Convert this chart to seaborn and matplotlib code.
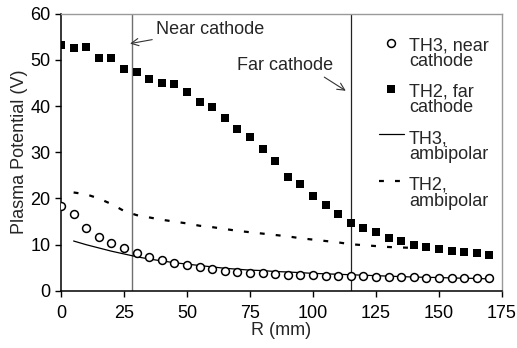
import numpy as np
import pandas as pd
import matplotlib
matplotlib.use("Agg")
import matplotlib.pyplot as plt
import seaborn as sns

# ---- data ----
r_pts = list(range(0, 175, 5))
th3_near = [18.4, 16.6, 13.7, 11.6, 10.3, 9.2, 8.2, 7.4, 6.7, 6.1, 5.6, 5.1, 4.7, 4.4,
            4.1, 3.9, 3.8, 3.6, 3.5, 3.4, 3.4, 3.3, 3.3, 3.2, 3.2, 3.1, 3.0, 3.0, 3.0,
            2.9, 2.9, 2.9, 2.8, 2.7, 2.7]
th2_far = [53.2, 52.5, 52.8, 50.4, 50.4, 48.1, 47.4, 45.9, 44.9, 44.8, 43.1, 40.8, 39.8,
           37.5, 35.0, 33.2, 30.7, 28.0, 24.7, 23.1, 20.6, 18.6, 16.6, 14.8, 13.7, 12.7,
           11.5, 10.8, 10.0, 9.4, 9.1, 8.7, 8.4, 8.1, 7.8]
r_th3_amb = list(range(5, 175, 5))
th3_amb = [10.8, 10.0, 9.3, 8.6, 8.0, 7.4, 6.9, 6.5, 6.1, 5.8, 5.5, 5.2, 4.9, 4.7, 4.5,
           4.4, 4.2, 4.1, 3.95, 3.8, 3.7, 3.6, 3.5, 3.4, 3.3, 3.2, 3.1, 3.0, 2.95, 2.9,
           2.8, 2.75, 2.7, 2.6]
r_th2_amb = list(range(5, 145, 5))
th2_amb = [21.3, 20.9, 20.0, 18.8, 17.3, 16.4, 15.9, 15.4, 15.0, 14.6, 14.1, 13.8, 13.4,
           13.0, 12.7, 12.4, 12.1, 11.8, 11.4, 11.1, 10.8, 10.5, 10.1, 9.9, 9.7, 9.5,
           9.4, 9.3]
near_x = 28
far_x = 115
x_ticks = [0, 25, 50, 75, 100, 125, 150, 175]
y_ticks = [0, 10, 20, 30, 40, 50, 60]

sns.set_style("ticks")
plt.rcParams['font.family'] = ['Liberation Sans', 'DejaVu Sans']
plt.rcParams['font.size'] = 13

fig = plt.figure(figsize=(5.17, 3.48), dpi=100)
ax = fig.add_axes([0.118, 0.164, 0.853, 0.797])

ax.axvline(near_x, color='#707070', lw=1.0, zorder=1)
ax.axvline(far_x, color='#222222', lw=0.9, zorder=1)

sns.scatterplot(x=r_pts, y=th3_near, ax=ax, marker='o', s=32, facecolor='white',
                edgecolor='black', linewidth=1.1, label='TH3, near\ncathode', zorder=3)
sns.scatterplot(x=r_pts, y=th2_far, ax=ax, marker='s', s=36, color='black',
                edgecolor='black', linewidth=0, label='TH2, far\ncathode', zorder=3)
sns.lineplot(x=r_th3_amb, y=th3_amb, ax=ax, color='black', lw=0.9,
             label='TH3,\nambipolar', zorder=2)
sns.lineplot(x=r_th2_amb, y=th2_amb, ax=ax, color='black', lw=1.6,
             dashes=False, label='TH2,\nambipolar', zorder=2)
ax.lines[-1].set_dashes((2.2, 5.0))

ax.set_xlim(0, 175)
ax.set_ylim(0, 60)
ax.set_xticks(x_ticks)
ax.set_yticks(y_ticks)
ax.tick_params(direction='out', length=4, width=1, labelsize=13, colors='black')
ax.tick_params(axis='x', pad=6)
for s in ['left', 'bottom']:
    ax.spines[s].set_color('black')
    ax.spines[s].set_linewidth(1.1)
for s in ['top', 'right']:
    ax.spines[s].set_visible(True)
    ax.spines[s].set_color('#999999')
    ax.spines[s].set_linewidth(1.0)

ax.set_xlabel('R (mm)', fontsize=13, labelpad=0)
ax.set_ylabel('Plasma Potential (V)', fontsize=13, labelpad=2)

ax.annotate('Near cathode', xy=(27.4, 53.5), xytext=(37.5, 56.6), fontsize=13,
            va='center', ha='left',
            arrowprops=dict(arrowstyle='->', color='#333333', lw=0.8,
                            shrinkA=0, shrinkB=0))
ax.annotate('Far cathode', xy=(113, 43.3), xytext=(70, 48.8), fontsize=13,
            va='center', ha='left',
            arrowprops=dict(arrowstyle='->', color='#333333', lw=0.8,
                            shrinkA=0, shrinkB=0,
                            relpos=(0.85, 0.0)))

leg = ax.legend(loc='upper left', bbox_to_anchor=(0.705, 0.986), frameon=False,
                fontsize=13, handlelength=1.35, handletextpad=0.3,
                labelspacing=0.77, borderaxespad=0)
for t in leg.get_texts():
    t.set_linespacing(0.9)
    t.set_va('center')

fig.savefig('out.png', dpi=100)
